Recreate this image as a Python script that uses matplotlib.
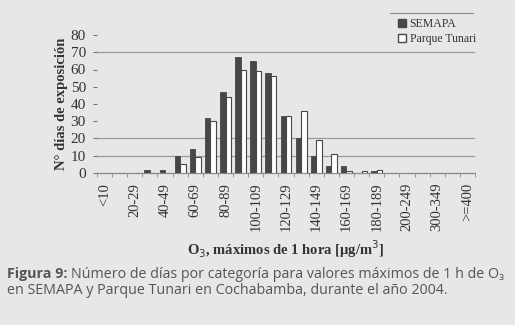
import numpy as np
import matplotlib.pyplot as plt
from matplotlib.lines import Line2D

# categories of 1 h max O3 (ug/m3)
categories = ['<10', '10-19', '20-29', '30-39', '40-49', '50-59', '60-69', '70-79',
              '80-89', '90-99', '100-109', '110-119', '120-129', '130-139', '140-149',
              '150-159', '160-169', '170-179', '180-189', '190-199', '200-249',
              '250-299', '300-349', '350-399', '>=400']
semapa = [0, 0, 0, 2, 2, 10, 14, 32, 47, 67, 65, 58, 33, 20, 10, 4, 4, 0, 1, 0, 0, 0, 0, 0, 0]
tunari = [0, 0, 0, 0, 0, 5, 9, 30, 44, 60, 59, 56, 33, 36, 19, 11, 1, 1, 2, 0, 0, 0, 0, 0, 0]
grid_levels = [10, 20, 70]
yticks = [0, 10, 20, 30, 40, 50, 60, 70, 80]

bg = '#e7e7e5'
dark = '#474747'
serif = 'Liberation Serif'

fig = plt.figure(figsize=(5.15, 3.25), dpi=100, facecolor=bg)
ax = fig.add_axes([97/515, 1-173/325, 378/515, 138/325])
ax.set_facecolor(bg)

x = np.arange(len(categories))
w = 0.36
ax.bar(x - w/2, semapa, w, color=dark, edgecolor=dark, linewidth=0.6, zorder=3)
ax.bar(x + w/2, tunari, w, color='white', edgecolor=dark, linewidth=0.8, zorder=3)

for g in grid_levels:
    ax.axhline(g, color='#9a9a9a', linewidth=0.9, zorder=1)

ax.set_xlim(-0.5, len(categories) - 0.5)
ax.set_ylim(0, 80)
for s in ['top', 'right', 'left']:
    ax.spines[s].set_visible(False)
ax.spines['bottom'].set_color('#8a8a8a')
ax.spines['bottom'].set_linewidth(0.9)

ax.set_yticks(yticks)
ax.set_yticklabels([str(v) for v in yticks], fontfamily=serif, fontsize=11, color='#333333')
ax.tick_params(axis='y', length=3, color='#777777', pad=5)

ax.set_xticks(x[::2])
ax.set_xticklabels(categories[::2], rotation=90, fontfamily=serif, fontsize=10.5, color='#333333')
ax.set_xticks(np.arange(len(categories) + 1) - 0.5, minor=True)
ax.tick_params(axis='x', which='major', length=0, pad=7)
ax.tick_params(axis='x', which='minor', length=3, color='#8a8a8a')

ax.set_ylabel('N° días de exposición', fontfamily=serif, fontsize=10.5, fontweight='bold',
              color='#333333', labelpad=2)
ax.set_xlabel('O$_3$, máximos de 1 hora [µg/m$^3$]', fontfamily=serif, fontsize=10.5,
              fontweight='bold', color='#333333', labelpad=5)

# legend
handles = [plt.Rectangle((0, 0), 1, 1, facecolor=dark, edgecolor=dark),
           plt.Rectangle((0, 0), 1, 1, facecolor='white', edgecolor=dark)]
leg = fig.legend(handles, ['SEMAPA', 'Parque Tunari'], loc='upper left',
                 bbox_to_anchor=(392/515, 1-12/325), frameon=False,
                 prop={'family': serif, 'size': 8.5}, handlelength=0.7, handleheight=0.7,
                 handletextpad=0.3, labelspacing=0.25, borderpad=0.0)
for t in leg.get_texts():
    t.set_color('#333333')
fig.add_artist(Line2D([390/515, 473/515], [1-13/325, 1-13/325], color='#8a8a8a', linewidth=0.8))

# caption
cap_font = ['Open Sans', 'DejaVu Sans']
cap_size = 10.3
t1 = fig.text(7/515, 1-274/325, 'Figura 9: ', fontfamily=cap_font, fontsize=cap_size,
              fontweight='bold', color='#555555', va='center')
fig.canvas.draw()
bb = t1.get_window_extent()
fig.text(bb.x1 / 515, 1-274/325, 'Número de días por categoría para valores máximos de 1 h de O₃',
         fontfamily=cap_font, fontsize=cap_size, color='#555555', va='center')
fig.text(7/515, 1-290/325, 'en SEMAPA y Parque Tunari en Cochabamba, durante el año 2004.',
         fontfamily=cap_font, fontsize=cap_size, color='#555555', va='center')

fig.savefig('out.png', dpi=100, facecolor=bg)
